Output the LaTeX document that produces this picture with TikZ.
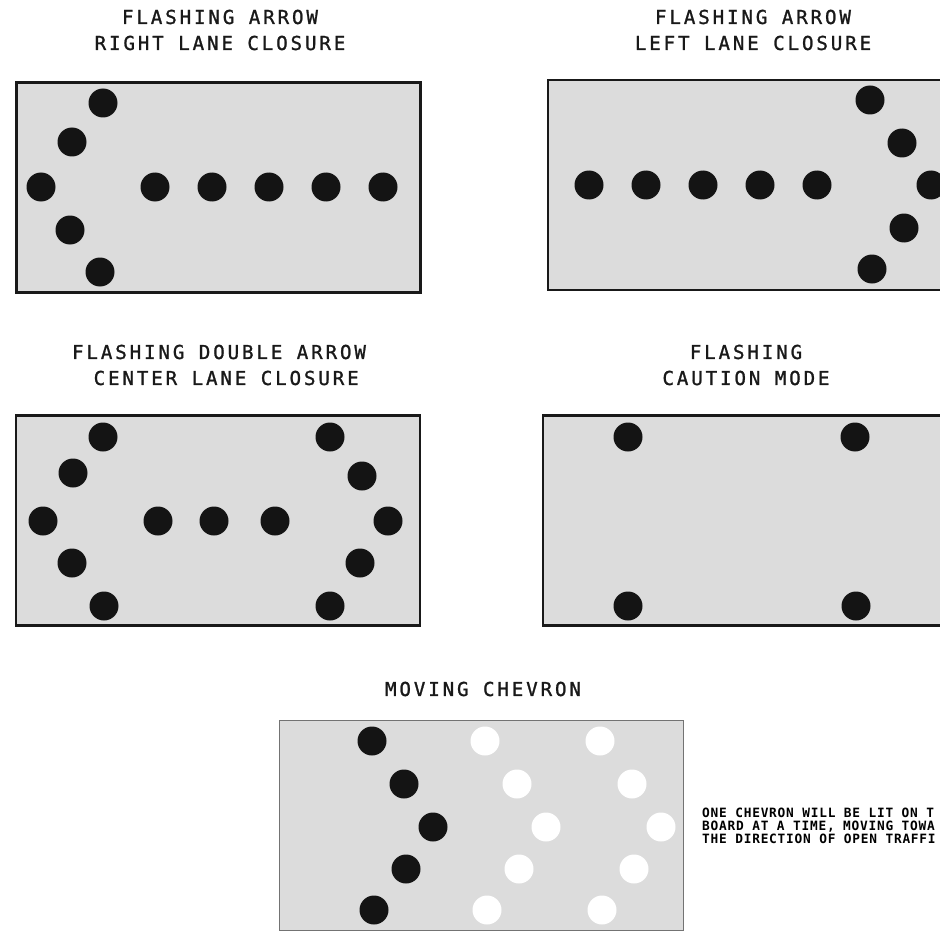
\documentclass[tikz,border=0pt]{standalone}
\usepackage{fontspec}
\newfontfamily\signfont[LetterSpace=14.8,FakeBold=1.2]{DejaVu Sans Mono}
\newfontfamily\notefont[LetterSpace=6]{DejaVu Sans Mono}
\usepackage{tikz}
\usetikzlibrary{positioning}
\definecolor{boardgray}{gray}{0.863}
\definecolor{lampblack}{gray}{0.08}
\tikzset{
	board/.style={
		draw=black!90, line width=2.2pt, fill=boardgray,
		rectangle, minimum width=404pt, minimum height=210pt,
		inner sep=0pt
	},
	chevboard/.style={board, draw=black!55, line width=1.5pt},
	lamp/.style={circle, fill=lampblack, minimum size=29pt, inner sep=0pt},
	lampoff/.style={lamp, fill=white},
	caption/.style={
		font=\signfont\fontsize{19.2}{26}\selectfont,
		align=center, text=black!90
	},
	note/.style={
		font=\notefont\bfseries\fontsize{12.8}{13}\selectfont,
		align=left, anchor=west, inner sep=0pt
	}
}

\begin{document}
\begin{tikzpicture}[x=1pt,y=-1pt]
				\useasboundingbox (0,0) rectangle (940,931);
				\clip (0,0) rectangle (940,931);
				\node[caption] (rlc-title) at (220,30) {FLASHING ARROW\\RIGHT LANE CLOSURE};
				\node[board] (rlc) at (218.5,187.5) {};
				\foreach \x/\y [count=\i] in {103/103,72/142,41/187,70/230,100/272}
					\node[lamp] (rlc-a\i) at (\x,\y) {};
				\foreach \i in {0,...,4}
					\node[lamp] (rlc-s\i) at (155+57*\i,187) {};
				\node[caption] (llc-title) at (753,30) {FLASHING ARROW\\LEFT LANE CLOSURE};
				\node[board] (llc) at (750,185) {};
				\foreach \i in {0,...,4}
					\node[lamp] (llc-s\i) at (589+57*\i,185) {};
				\foreach \x/\y [count=\i] in {870/100,902/143,931/185,904/228,872/269}
					\node[lamp] (llc-a\i) at (\x,\y) {};
				\node[caption] (clc-title) at (219,365) {FLASHING DOUBLE ARROW\\~CENTER LANE CLOSURE};
				\node[board] (clc) at (218,520.5) {};
				\foreach \x/\y [count=\i] in {103/437,73/473,43/521,72/563,104/606}
					\node[lamp] (clc-l\i) at (\x,\y) {};
				\foreach \x [count=\i] in {158,214,275}
					\node[lamp] (clc-s\i) at (\x,521) {};
				\foreach \x/\y [count=\i] in {330/437,362/476,388/521,360/563,330/606}
					\node[lamp] (clc-r\i) at (\x,\y) {};
				\node[caption] (caution-title) at (746,365) {FLASHING\\CAUTION MODE};
				\node[board] (caution) at (745,520.5) {};
				\foreach \x/\y [count=\i] in {628/437,855/437,628/606,856/606}
					\node[lamp] (caution-\i) at (\x,\y) {};
				\node[caption] (chev-title) at (483,689) {MOVING CHEVRON};
				\node[chevboard] (chev) at (481.5,825.5) {};
				\foreach \x/\y [count=\i] in {372/741,404/784,433/827,406/869,374/910}{
					\node[lamp] (chev-on\i) at (\x,\y) {};
					\node[lampoff] (chev-b\i) at (\x+113,\y) {};
					\node[lampoff] (chev-c\i) at (\x+228,\y) {};
				}
				\node[note] (chev-note) at (702,826) {ONE CHEVRON WILL BE LIT ON T\\BOARD AT A TIME, MOVING TOWA\\THE DIRECTION OF OPEN TRAFFI};
			\end{tikzpicture}
\end{document}
